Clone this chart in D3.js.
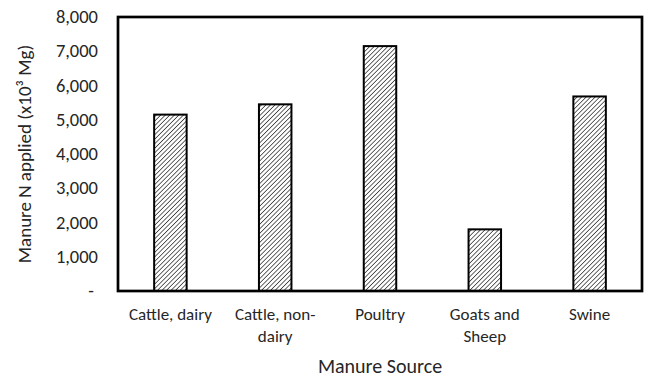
<!DOCTYPE html>
<html>
<head>
<meta charset="utf-8">
<title>Manure N applied</title>
<script src="https://d3js.org/d3.v7.min.js"></script>
<style>
  body { margin: 0; background: #fff; }
  svg text { font-family: Carlito, "Open Sans", "Liberation Sans", sans-serif; fill: #262626; }
</style>
</head>
<body>
<svg id="chart" width="654" height="379"></svg>
<script>
// data
var categories = ["Cattle, dairy", "Cattle, non-dairy", "Poultry", "Goats and Sheep", "Swine"];
var categoryLines = [["Cattle, dairy"], ["Cattle, non-", "dairy"], ["Poultry"], ["Goats and", "Sheep"], ["Swine"]];
var values = [5150, 5450, 7150, 1800, 5680];
var yTicks = [0, 1000, 2000, 3000, 4000, 5000, 6000, 7000, 8000];

var svg = d3.select("#chart");
var margin = {top: 17, right: 12, bottom: 88, left: 118};
var width = 654 - margin.left - margin.right;
var height = 379 - margin.top - margin.bottom;

// hatch pattern for bars
var defs = svg.append("defs");
var pat = defs.append("pattern")
    .attr("id", "hatch")
    .attr("patternUnits", "userSpaceOnUse")
    .attr("width", 3.2)
    .attr("height", 3.2)
    .attr("patternTransform", "rotate(45)");
pat.append("rect").attr("width", 3.2).attr("height", 3.2).attr("fill", "#fff");
pat.append("line")
    .attr("x1", 0).attr("y1", 0).attr("x2", 0).attr("y2", 3.2)
    .attr("stroke", "#333").attr("stroke-width", 1.5);

var g = svg.append("g").attr("transform", "translate(" + margin.left + "," + margin.top + ")");

var x = d3.scaleBand().domain(categories).range([0, width]).paddingInner(0.69).paddingOuter(0.345);
var y = d3.scaleLinear().domain([0, 8000]).range([height, 0]);

// y axis
var yAxis = g.append("g")
    .call(d3.axisLeft(y).tickValues(yTicks).tickSize(0).tickPadding(20)
        .tickFormat(function(d) { return d === 0 ? "-" : d3.format(",")(d); }));
yAxis.select(".domain").remove();
yAxis.selectAll("text").style("font-size", "18.5px").attr("dy", "0.3em");
yAxis.selectAll(".tick").filter(function(d) { return d === 0; }).select("text").attr("x", -24);

// x axis
var xAxis = g.append("g")
    .attr("transform", "translate(0," + height + ")")
    .call(d3.axisBottom(x).tickSize(0).tickPadding(0));
xAxis.select(".domain").remove();
xAxis.selectAll(".tick text").each(function(d, i) {
    var t = d3.select(this);
    t.text(null).attr("y", 0).attr("dy", null).style("font-size", "17px");
    categoryLines[i].forEach(function(line, j) {
        t.append("tspan").attr("x", 0).attr("y", 29 + j * 22).text(line);
    });
});

// bars
g.selectAll(".bar")
    .data(values)
    .enter().append("rect")
    .attr("class", "bar")
    .attr("x", function(d, i) { return x(categories[i]); })
    .attr("y", function(d) { return y(d); })
    .attr("width", x.bandwidth())
    .attr("height", function(d) { return height - y(d); })
    .attr("fill", "url(#hatch)")
    .attr("stroke", "#000")
    .attr("stroke-width", 2);

// frame
g.append("rect")
    .attr("width", width).attr("height", height)
    .attr("fill", "none").attr("stroke", "#000").attr("stroke-width", 2.7);

// axis titles
svg.append("text")
    .attr("x", margin.left + width / 2)
    .attr("y", 373)
    .attr("text-anchor", "middle")
    .style("font-size", "20px")
    .text("Manure Source");

svg.append("text")
    .attr("transform", "translate(31," + (margin.top + height / 2) + ") rotate(-90)")
    .attr("text-anchor", "middle")
    .style("font-size", "19px")
    .text("Manure N applied (x10³ Mg)");
</script>
</body>
</html>
